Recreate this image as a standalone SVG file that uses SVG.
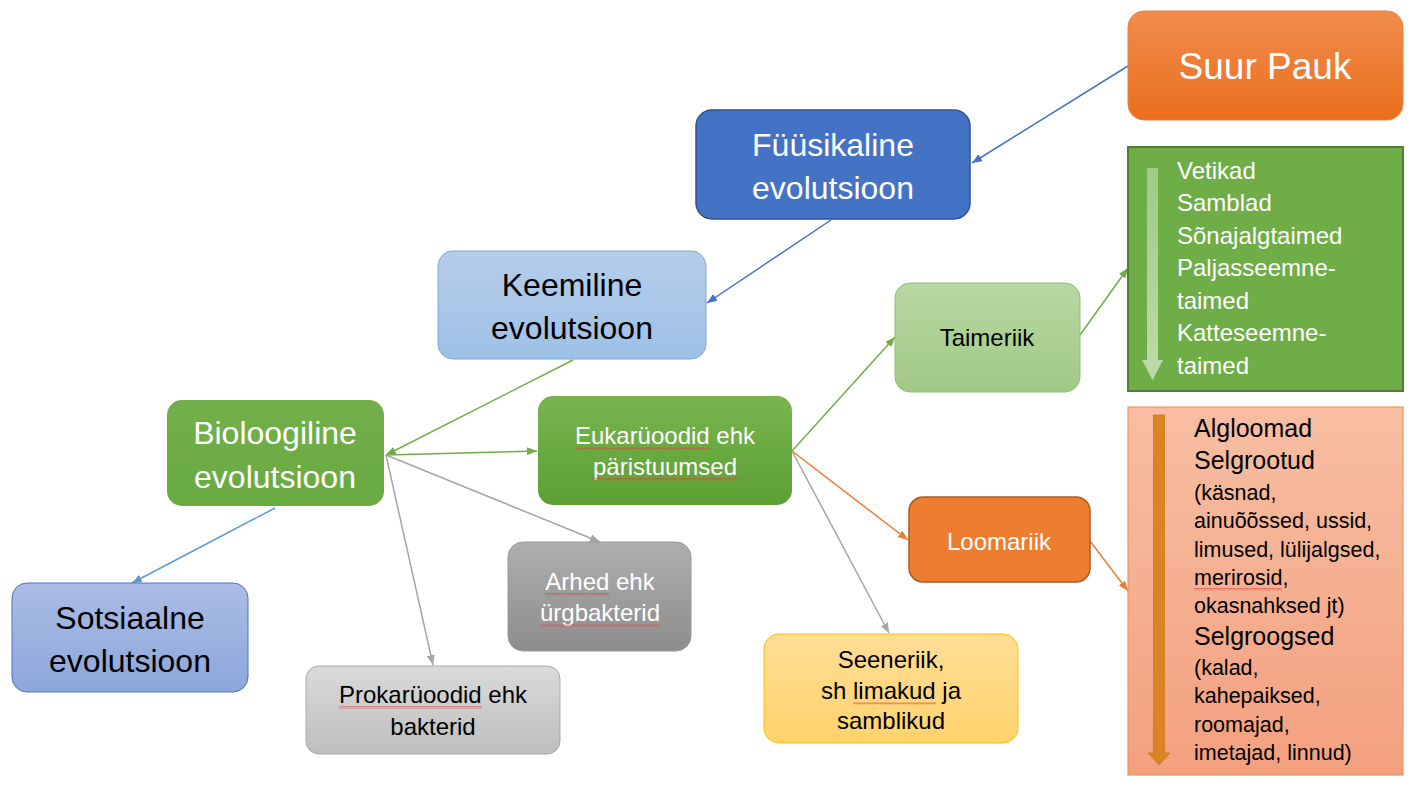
<svg xmlns="http://www.w3.org/2000/svg" width="1421" height="789" viewBox="0 0 1421 789">
<style>
text{font-family:"Liberation Sans",Arial,sans-serif;text-anchor:middle}
.w{fill:#fff}.k{fill:#000}
.big{font-size:32px}.mid{font-size:24px}
.lst{text-anchor:start}
.c{fill:none;stroke-width:1.5}
.wave{fill:url(#wavy)}
</style>
<defs>
<pattern id="wavy" width="3" height="2.5" patternUnits="userSpaceOnUse"><path d="M0,2 L0.75,0.5 L1.5,2 L2.25,0.5 L3,2" fill="none" stroke="#E23B3B" stroke-width="0.6" stroke-opacity="0.85"/></pattern>
<linearGradient id="gOr" x1="0" y1="0" x2="0" y2="1"><stop offset="0" stop-color="#F18C4E"/><stop offset="1" stop-color="#E96F1D"/></linearGradient>
<linearGradient id="gLb" x1="0" y1="0" x2="0" y2="1"><stop offset="0" stop-color="#B6CDEB"/><stop offset="1" stop-color="#9DC1E6"/></linearGradient>
<linearGradient id="gBio" x1="0" y1="0" x2="0" y2="1"><stop offset="0" stop-color="#73AF4A"/><stop offset="1" stop-color="#69AA41"/></linearGradient>
<linearGradient id="gEu" x1="0" y1="0" x2="0" y2="1"><stop offset="0" stop-color="#78B54F"/><stop offset="1" stop-color="#5CA033"/></linearGradient>
<linearGradient id="gTa" x1="0" y1="0" x2="0" y2="1"><stop offset="0" stop-color="#B8D8A3"/><stop offset="1" stop-color="#A1C985"/></linearGradient>
<linearGradient id="gSo" x1="0" y1="0" x2="0" y2="1"><stop offset="0" stop-color="#ABBCE5"/><stop offset="1" stop-color="#8CA7DA"/></linearGradient>
<linearGradient id="gPr" x1="0" y1="0" x2="0" y2="1"><stop offset="0" stop-color="#DADADA"/><stop offset="1" stop-color="#BEBEBE"/></linearGradient>
<linearGradient id="gAr" x1="0" y1="0" x2="0" y2="1"><stop offset="0" stop-color="#AEAEAE"/><stop offset="1" stop-color="#8D8D8D"/></linearGradient>
<linearGradient id="gSe" x1="0" y1="0" x2="0" y2="1"><stop offset="0" stop-color="#FFDD96"/><stop offset="1" stop-color="#FFD36C"/></linearGradient>
<linearGradient id="gAn" x1="0" y1="0" x2="0" y2="1"><stop offset="0" stop-color="#F7BEA3"/><stop offset="1" stop-color="#F3A07F"/></linearGradient>
<linearGradient id="gPa" x1="0" y1="0" x2="0" y2="1"><stop offset="0" stop-color="#ffffff" stop-opacity="0.35"/><stop offset="1" stop-color="#ffffff" stop-opacity="0.55"/></linearGradient>
<marker id="aBlue" markerUnits="userSpaceOnUse" markerWidth="10" markerHeight="8" refX="10" refY="4" orient="auto"><path d="M0,0 L10,4 L0,8 z" fill="#4472C4"/></marker>
<marker id="aLb" markerUnits="userSpaceOnUse" markerWidth="10" markerHeight="8" refX="10" refY="4" orient="auto"><path d="M0,0 L10,4 L0,8 z" fill="#5B9BD5"/></marker>
<marker id="aGr" markerUnits="userSpaceOnUse" markerWidth="10" markerHeight="8" refX="10" refY="4" orient="auto"><path d="M0,0 L10,4 L0,8 z" fill="#70AD47"/></marker>
<marker id="aGy" markerUnits="userSpaceOnUse" markerWidth="10" markerHeight="8" refX="10" refY="4" orient="auto"><path d="M0,0 L10,4 L0,8 z" fill="#A5A5A5"/></marker>
<marker id="aOr" markerUnits="userSpaceOnUse" markerWidth="10" markerHeight="8" refX="10" refY="4" orient="auto"><path d="M0,0 L10,4 L0,8 z" fill="#ED7D31"/></marker>
</defs>
<rect width="1421" height="789" fill="#fff"/>

<g id="connectors">
<line class="c" x1="1128" y1="66" x2="972" y2="163" stroke="#4472C4" marker-end="url(#aBlue)"/>
<line class="c" x1="831" y1="220" x2="707" y2="303" stroke="#4472C4" marker-end="url(#aBlue)"/>
<line class="c" x1="573" y1="360" x2="386" y2="455" stroke="#70AD47" marker-end="url(#aGr)"/>
<line class="c" x1="386" y1="455" x2="537" y2="451" stroke="#70AD47" marker-end="url(#aGr)"/>
<line class="c" x1="275" y1="508" x2="132" y2="583" stroke="#5B9BD5" marker-end="url(#aLb)"/>
<line class="c" x1="386" y1="455" x2="433" y2="665" stroke="#A5A5A5" marker-end="url(#aGy)"/>
<line class="c" x1="386" y1="455" x2="600" y2="542" stroke="#A5A5A5" marker-end="url(#aGy)"/>
<line class="c" x1="792" y1="451" x2="895" y2="337" stroke="#70AD47" marker-end="url(#aGr)"/>
<line class="c" x1="792" y1="451" x2="908" y2="540" stroke="#ED7D31" marker-end="url(#aOr)"/>
<line class="c" x1="792" y1="451" x2="889" y2="633" stroke="#A5A5A5" marker-end="url(#aGy)"/>
<line class="c" x1="1080" y1="335" x2="1128" y2="268" stroke="#70AD47" marker-end="url(#aGr)"/>
<line class="c" x1="1090" y1="541" x2="1128" y2="591" stroke="#ED7D31" marker-end="url(#aOr)"/>
</g>

<g id="suur-pauk">
<rect x="1128" y="11" width="275" height="109" rx="16" fill="url(#gOr)" stroke="#E9803F" stroke-width="1"/>
<text class="w" x="1265" y="79" font-size="37">Suur Pauk</text>
</g>

<g id="fuusikaline">
<rect x="696" y="110" width="274" height="109" rx="16" fill="#4472C4" stroke="#2F528F" stroke-width="1.5"/>
<text class="w big" x="833" y="156">Füüsikaline</text>
<text class="w big" x="833" y="199">evolutsioon</text>
</g>

<g id="keemiline">
<rect x="438" y="251" width="268" height="108" rx="15" fill="url(#gLb)" stroke="#7EA6DA" stroke-width="1"/>
<text class="k big" x="572" y="296">Keemiline</text>
<text class="k big" x="572" y="339">evolutsioon</text>
</g>

<g id="bioloogiline">
<rect x="167" y="400" width="217" height="106" rx="15" fill="url(#gBio)"/>
<text class="w big" x="275" y="444">Bioloogiline</text>
<text class="w big" x="275" y="488">evolutsioon</text>
</g>

<g id="eukaryoodid">
<rect x="538" y="396" width="254" height="109" rx="15" fill="url(#gEu)"/>
<text class="w mid" x="665" y="444">Eukarüoodid ehk</text>
<text class="w mid" x="665" y="475">päristuumsed</text>
<rect class="wave" x="575" y="447" width="135" height="2.5"/>
<rect class="wave" x="593" y="478" width="144" height="2.5"/>
</g>

<g id="taimeriik">
<rect x="895" y="283" width="185" height="109" rx="15" fill="url(#gTa)" stroke="#8FBF70" stroke-width="1"/>
<text class="k mid" x="987" y="346">Taimeriik</text>
</g>

<g id="taimed-list">
<rect x="1128" y="147" width="275" height="244" fill="#6FAD47" stroke="#507E32" stroke-width="2"/>
<path d="M1147,168 H1158 V360 H1163 L1152.5,380 L1142,360 H1147 Z" fill="url(#gPa)"/>
<text class="w mid lst" x="1177" y="179">Vetikad</text>
<text class="w mid lst" x="1177" y="211">Samblad</text>
<text class="w mid lst" x="1177" y="244">Sõnajalgtaimed</text>
<text class="w mid lst" x="1177" y="276">Paljasseemne-</text>
<text class="w mid lst" x="1177" y="309">taimed</text>
<text class="w mid lst" x="1177" y="341">Katteseemne-</text>
<text class="w mid lst" x="1177" y="374">taimed</text>
</g>

<g id="loomariik">
<rect x="909" y="497" width="181" height="85" rx="14" fill="#ED7D31" stroke="#AE5A21" stroke-width="1.5"/>
<text class="w" x="999" y="550" font-size="24">Loomariik</text>
</g>

<g id="loomad-list">
<rect x="1128" y="407" width="275" height="368" fill="url(#gAn)" stroke="#EE9461" stroke-width="1.2"/>
<path d="M1153.5,415 H1164.5 V753 H1170 L1159,765 L1148,753 H1153.5 Z" fill="#DC8424" stroke="#C77A22" stroke-width="0.8"/>
<text class="k lst" x="1194" y="437" font-size="25">Algloomad</text>
<text class="k lst" x="1194" y="469" font-size="25">Selgrootud</text>
<text class="k lst" x="1194" y="500" font-size="21.5">(käsnad,</text>
<text class="k lst" x="1194" y="528" font-size="21.5">ainuõõssed, ussid,</text>
<text class="k lst" x="1194" y="557" font-size="21.5">limused, lülijalgsed,</text>
<text class="k lst" x="1194" y="585" font-size="21.5">merirosid,</text>
<text class="k lst" x="1194" y="613" font-size="21.5">okasnahksed jt)</text>
<text class="k lst" x="1194" y="645" font-size="25">Selgroogsed</text>
<text class="k lst" x="1194" y="675" font-size="21.5">(kalad,</text>
<text class="k lst" x="1194" y="703" font-size="21.5">kahepaiksed,</text>
<text class="k lst" x="1194" y="732" font-size="21.5">roomajad,</text>
<text class="k lst" x="1194" y="760" font-size="21.5">imetajad, linnud)</text>
<rect class="wave" x="1194" y="588" width="88" height="2.5"/>
</g>

<g id="sotsiaalne">
<rect x="12" y="583" width="236" height="109" rx="15" fill="url(#gSo)" stroke="#4E72BE" stroke-width="1"/>
<text class="k big" x="130" y="629">Sotsiaalne</text>
<text class="k big" x="130" y="672">evolutsioon</text>
</g>

<g id="prokaryoodid">
<rect x="306" y="666" width="254" height="88" rx="13" fill="url(#gPr)" stroke="#A8A8A8" stroke-width="1"/>
<text class="k mid" x="433" y="703">Prokarüoodid ehk</text>
<text class="k mid" x="433" y="735">bakterid</text>
<rect class="wave" x="339" y="706" width="143" height="2.5"/>
</g>

<g id="arhed">
<rect x="508" y="542" width="183" height="109" rx="15" fill="url(#gAr)" stroke="#9A9A9A" stroke-width="1"/>
<text class="w mid" x="600" y="590">Arhed ehk</text>
<text class="w mid" x="600" y="621">ürgbakterid</text>
<rect class="wave" x="545" y="593" width="64" height="2.5"/>
<rect class="wave" x="540" y="624" width="120" height="2.5"/>
</g>

<g id="seeneriik">
<rect x="764" y="634" width="254" height="109" rx="15" fill="url(#gSe)" stroke="#FFC000" stroke-width="1"/>
<text class="k mid" x="891" y="668">Seeneriik,</text>
<text class="k mid" x="891" y="699">sh limakud ja</text>
<text class="k mid" x="891" y="729">samblikud</text>
<rect class="wave" x="853" y="702" width="83" height="2.5"/>
</g>
</svg>
